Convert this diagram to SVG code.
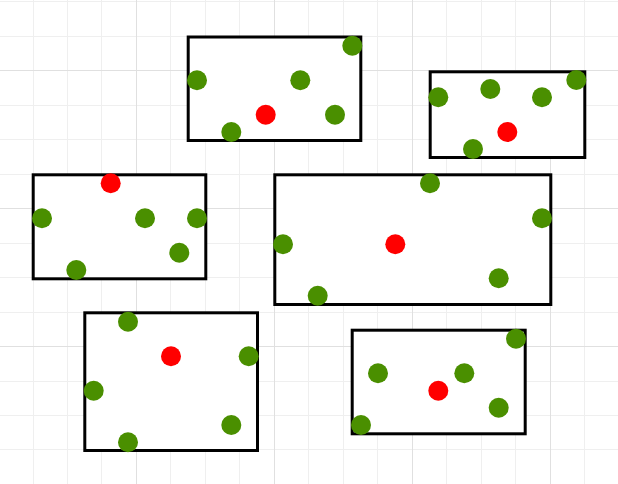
<svg xmlns="http://www.w3.org/2000/svg" width="618" height="484" viewBox="0 0 618 484">
<style>
.minor{stroke:#efefef;stroke-width:1;fill:none}
.major{stroke:#e0e0e0;stroke-width:1;fill:none}
.box{fill:#ffffff;stroke:#000000;stroke-width:3}
.g{fill:#4a8f00}
.r{fill:#ff0000}
</style>
<rect width="618" height="484" fill="#ffffff"/>
<g id="grid">
<path class="minor" d="M33.5 0V484M67.5 0V484M101.5 0V484M170.5 0V484M205.5 0V484M239.5 0V484M308.5 0V484M343.5 0V484M377.5 0V484M446.5 0V484M481.5 0V484M515.5 0V484M584.5 0V484M0 1.5H618M0 36.5H618M0 105.5H618M0 139.5H618M0 174.5H618M0 243.5H618M0 277.5H618M0 312.5H618M0 381.5H618M0 415.5H618M0 449.5H618"/>
<path class="major" d="M136.5 0V484M274.5 0V484M412.5 0V484M550.5 0V484M0 70.5H618M0 208.5H618M0 346.5H618"/>
</g>
<g id="connectors"></g>
<g id="box1">
<rect class="box" x="188.2" y="37" width="172.6" height="103.5"/>
<circle class="g" cx="197" cy="80.3" r="10"/>
<circle class="g" cx="300.3" cy="80.3" r="10"/>
<circle class="r" cx="265.7" cy="114.7" r="10"/>
<circle class="g" cx="231.3" cy="132" r="10"/>
<circle class="g" cx="352.3" cy="45.7" r="10"/>
<circle class="g" cx="335" cy="114.7" r="10"/>
</g>
<g id="box2">
<rect class="box" x="430.2" y="71.8" width="154.6" height="85.7"/>
<circle class="g" cx="438.3" cy="97.3" r="10"/>
<circle class="g" cx="490.3" cy="89" r="10"/>
<circle class="g" cx="542" cy="97.3" r="10"/>
<circle class="g" cx="576.3" cy="80" r="10"/>
<circle class="r" cx="507.3" cy="132" r="10"/>
<circle class="g" cx="473" cy="149" r="10"/>
</g>
<g id="box3">
<rect class="box" x="33.2" y="174.8" width="172.6" height="104"/>
<circle class="r" cx="110.7" cy="183.3" r="10"/>
<circle class="g" cx="42" cy="218.3" r="10"/>
<circle class="g" cx="145" cy="218.3" r="10"/>
<circle class="g" cx="197" cy="218.3" r="10"/>
<circle class="g" cx="179.3" cy="252.7" r="10"/>
<circle class="g" cx="76.3" cy="270" r="10"/>
</g>
<g id="box4">
<rect class="box" x="274.8" y="174.8" width="276" height="129.7"/>
<circle class="g" cx="430" cy="183.3" r="10"/>
<circle class="g" cx="542" cy="218.3" r="10"/>
<circle class="r" cx="395.3" cy="244.3" r="10"/>
<circle class="g" cx="283" cy="244.3" r="10"/>
<circle class="g" cx="498.7" cy="278.3" r="10"/>
<circle class="g" cx="317.7" cy="295.7" r="10"/>
</g>
<g id="box5">
<rect class="box" x="84.8" y="312.8" width="172.7" height="137.7"/>
<circle class="g" cx="128" cy="321.7" r="10"/>
<circle class="r" cx="171" cy="356.3" r="10"/>
<circle class="g" cx="248.7" cy="356.3" r="10"/>
<circle class="g" cx="93.7" cy="390.7" r="10"/>
<circle class="g" cx="231.3" cy="425" r="10"/>
<circle class="g" cx="128" cy="442.3" r="10"/>
</g>
<g id="box6">
<rect class="box" x="352.2" y="330.2" width="173" height="103.6"/>
<circle class="g" cx="516" cy="338.7" r="10"/>
<circle class="g" cx="378" cy="373.3" r="10"/>
<circle class="g" cx="464.3" cy="373.3" r="10"/>
<circle class="r" cx="438.3" cy="390.7" r="10"/>
<circle class="g" cx="498.7" cy="407.7" r="10"/>
<circle class="g" cx="361" cy="425" r="10"/>
</g>
</svg>
